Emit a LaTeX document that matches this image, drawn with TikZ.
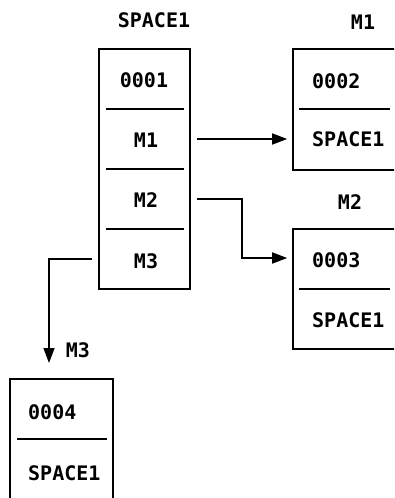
\documentclass[tikz,border=0pt]{standalone}
\usepackage{fontspec}
\setmonofont{DejaVu Sans Mono}
\usetikzlibrary{arrows.meta}

\begin{document}
\begin{tikzpicture}[x=1pt,y=-1pt,
    every node/.style={font=\ttfamily\bfseries\fontsize{20}{24}\selectfont, inner sep=0pt},
    frame/.style={draw, line width=1.6pt},
    link/.style={line width=1.6pt, -{Triangle[length=15pt,width=11pt]}}]
\clip (0,0) rectangle (394,498);

% SPACE1 block
\node at (154,20) {SPACE1};
\node[frame, minimum width=91pt, minimum height=240pt] (spbox) at (144.5,169) {};
\node (t0001) at (144,80) {0001};
\node (tm1) at (146,140) {M1};
\node (tm2) at (146,200) {M2};
\node (tm3) at (146,261) {M3};
\draw[line width=1.6pt] (106,109) -- (184,109);
\draw[line width=1.6pt] (106,169) -- (184,169);
\draw[line width=1.6pt] (106,229) -- (184,229);

% M1 block
\node at (363,22) {M1};
\node[frame, minimum width=127pt, minimum height=121pt] (m1box) at (356.5,109.5) {};
\node[anchor=west] (t0002) at (312,81) {0002};
\node[anchor=west] (s1a) at (312,139) {SPACE1};
\draw[line width=1.6pt] (299,109) -- (390,109);

% M2 block
\node at (350,202) {M2};
\node[frame, minimum width=127pt, minimum height=120pt] (m2box) at (356.5,289) {};
\node[anchor=west] (t0003) at (312,260) {0003};
\node[anchor=west] (s1b) at (312,320) {SPACE1};
\draw[line width=1.6pt] (299,289) -- (390,289);

% M3 block
\node (lm3) at (78,350) {M3};
\node[frame, minimum width=103pt, minimum height=161pt] (m3box) at (61.5,459.5) {};
\node[anchor=west] (t0004) at (28,412) {0004};
\node[anchor=west] (s1c) at (28,473) {SPACE1};
\draw[line width=1.6pt] (17,439) -- (107,439);

% pointers
\coordinate (m3tip) at (49,363);
\draw[link, shorten <=6pt, shorten >=5pt] (spbox.east |- 0,139) -- (m1box.west |- 0,139);
\draw[link, shorten <=6pt, shorten >=5pt] (spbox.east |- 0,199) -- ++(51,0) |- (m2box.west |- 0,258);
\draw[link, shorten <=6pt] (spbox.west |- 0,259) -| (m3tip);
\end{tikzpicture}
\end{document}
